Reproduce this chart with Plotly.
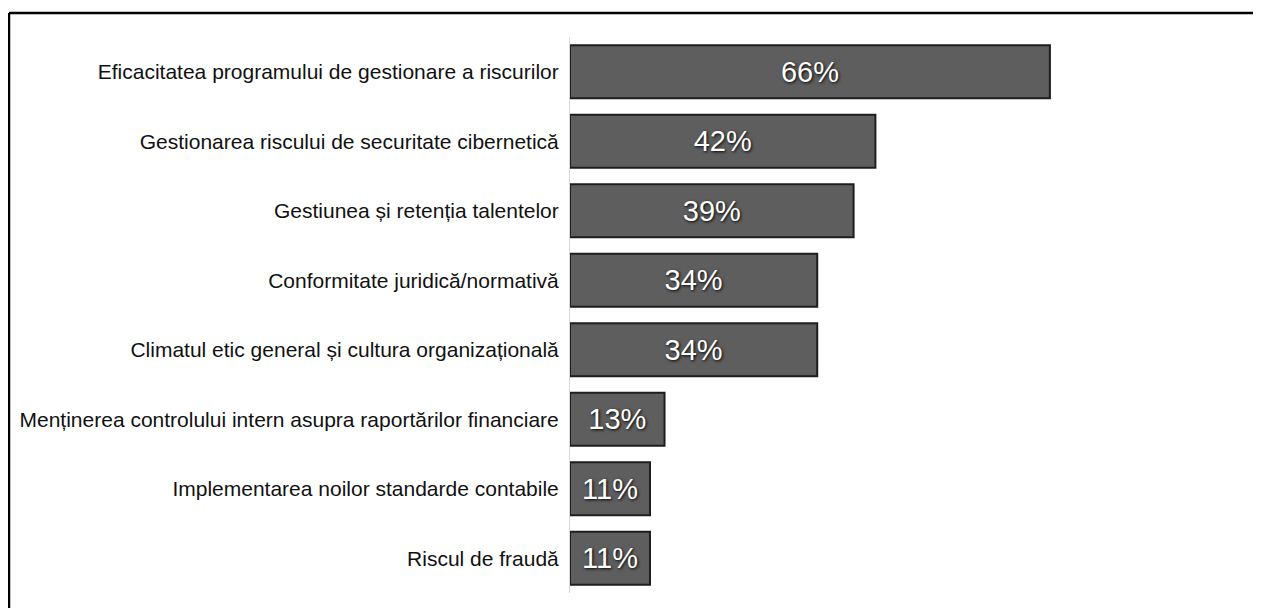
import plotly.graph_objects as go

categories = [
    "Eficacitatea programului de gestionare a riscurilor",
    "Gestionarea riscului de securitate cibernetică",
    "Gestiunea și retenția talentelor",
    "Conformitate juridică/normativă",
    "Climatul etic general și cultura organizațională",
    "Menținerea controlului intern asupra raportărilor financiare",
    "Implementarea noilor standarde contabile",
    "Riscul de fraudă",
]
values = [66, 42, 39, 34, 34, 13, 11, 11]
text_labels = [f"{v}%" for v in values]

# page body has an 8px margin; figure coordinates = page coordinates - 8
OFF = 8
W, H = 1261 - OFF, 608 - OFF
plot_left, plot_right = 570 - OFF, 1079 - OFF
plot_top, plot_bottom = 37 - OFF, 593 - OFF

fig = go.Figure(
    go.Bar(
        x=values,
        y=categories,
        orientation="h",
        width=0.76,
        marker=dict(color="#5e5e5e", line=dict(color="#1e1e1e", width=2)),
        text=text_labels,
        textposition="inside",
        insidetextanchor="middle",
        textfont=dict(family="Liberation Sans, Arial, sans-serif", size=29, color="white",
                      shadow="1px 1px 3px #000"),
        hoverinfo="skip",
    )
)

fig.update_layout(
    width=W,
    height=H,
    margin=dict(l=plot_left, r=W - plot_right, t=plot_top, b=H - plot_bottom, pad=0),
    paper_bgcolor="white",
    plot_bgcolor="white",
    showlegend=False,
    uniformtext=dict(minsize=29, mode="show"),
    font=dict(family="Liberation Sans, Arial, sans-serif", size=21, color="#111"),
)
fig.update_xaxes(range=[0, 70], visible=False, fixedrange=True)
fig.update_yaxes(
    autorange="reversed",
    showline=True,
    linecolor="#d9d9d9",
    linewidth=1,
    ticks="outside",
    ticklen=6,
    tickcolor="rgba(0,0,0,0)",
    showgrid=False,
    tickfont=dict(size=21, color="#111"),
)

# frame lines (top and left) like the reference
pw = plot_right - plot_left
ph = plot_bottom - plot_top
def px_x(x):
    return (x - plot_left) / pw
def px_y(y):
    return (plot_bottom - y) / ph

fig.add_shape(type="line", xref="paper", yref="paper",
              x0=px_x(1), x1=px_x(W + 2), y0=px_y(5), y1=px_y(5),
              line=dict(color="black", width=2.5))
fig.add_shape(type="line", xref="paper", yref="paper",
              x0=px_x(1), x1=px_x(1), y0=px_y(5), y1=px_y(H + 2),
              line=dict(color="black", width=2.5))

fig.write_html("out.html")
